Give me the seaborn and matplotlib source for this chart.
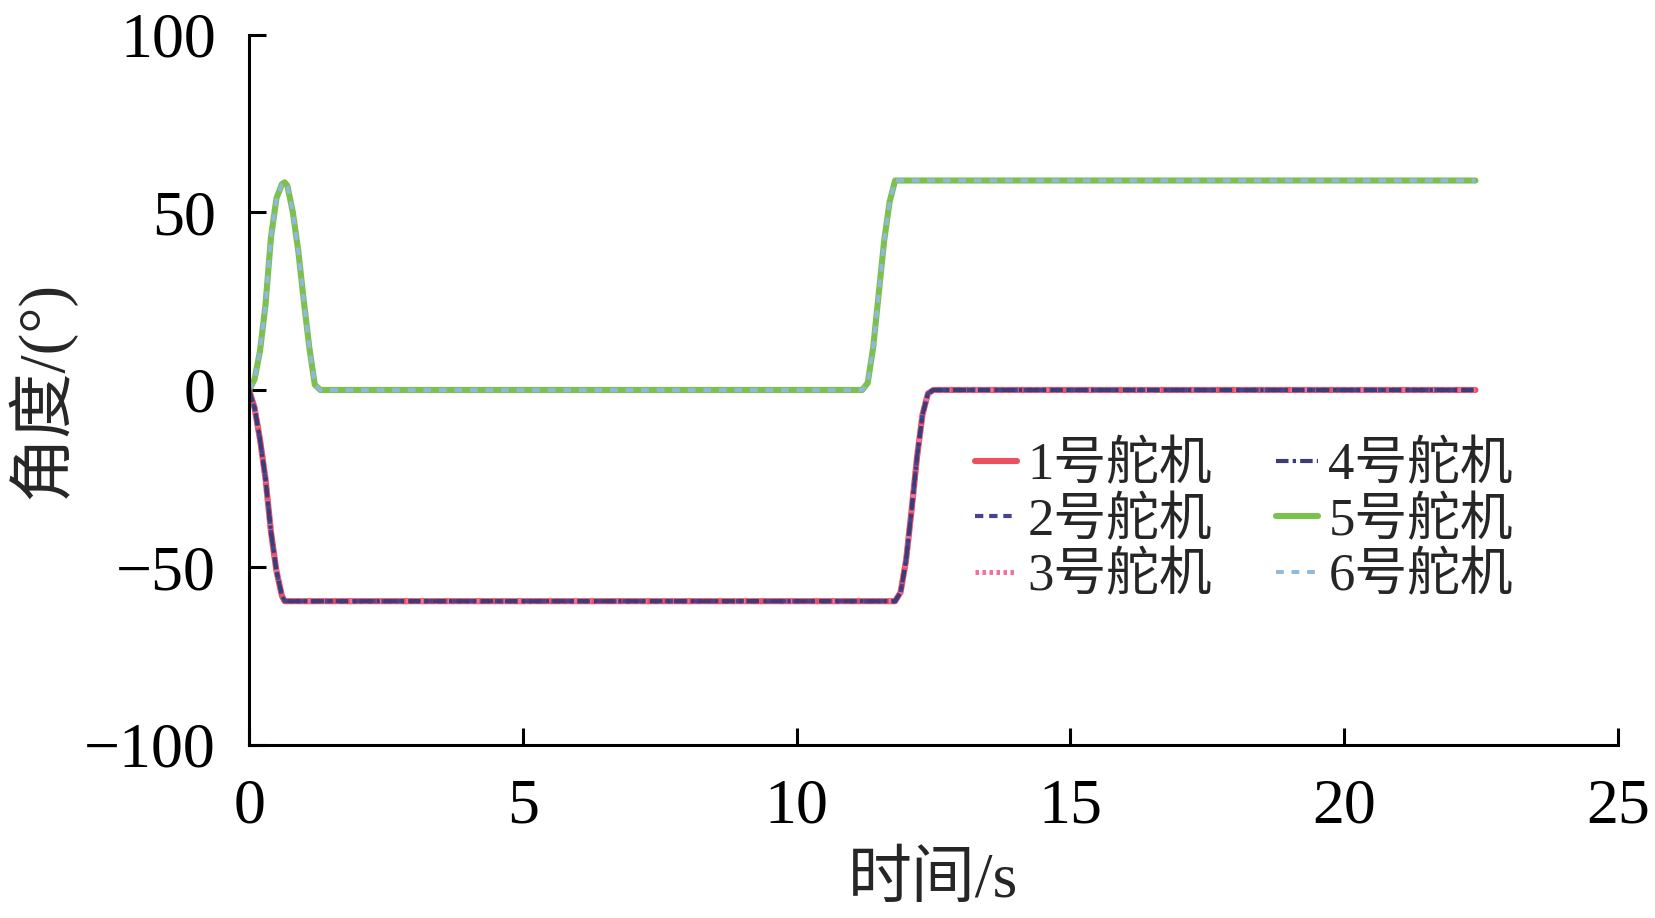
import matplotlib
matplotlib.use("Agg")
import matplotlib.pyplot as plt
import seaborn as sns
import pandas as pd

# ---- data ----
time_s = [0, 0.1, 0.2, 0.3, 0.4, 0.5, 0.6, 0.65, 0.7, 0.8, 0.9, 1.0, 1.1, 1.2, 1.3,
          5, 10, 11.2, 11.3, 11.4, 11.5, 11.6, 11.7, 11.8, 11.9, 12.0, 12.1, 12.2,
          12.3, 12.4, 12.5, 15, 20, 22.4]
# servos 1-4 (identical curves)
angle_down = [0, -5, -14, -25, -40, -51, -58, -59.5, -59.5, -59.5, -59.5, -59.5, -59.5,
              -59.5, -59.5, -59.5, -59.5, -59.5, -59.5, -59.5, -59.5, -59.5, -59.5,
              -59.5, -57, -48, -34, -19, -7, -1, 0, 0, 0, 0]
# servos 5-6 (identical curves)
angle_up = [0, 3, 11, 24, 43, 54, 58, 58.5, 57.5, 50, 39, 25, 12, 1.5, 0,
            0, 0, 0, 2, 12, 27, 42, 53, 59, 59, 59, 59, 59, 59, 59, 59, 59, 59, 59]

servo_names = ["1号舵机", "2号舵机", "3号舵机", "4号舵机", "5号舵机", "6号舵机"]
servo_curves = [angle_down, angle_down, angle_down, angle_down, angle_up, angle_up]
servo_colors = ["#ec4f5f", "#45458f", "#f4709a", "#3c3c78", "#7cc04e", "#8fb8dc"]
servo_styles = ["-", (0, (2.0, 1.4)), (0, (0.7, 0.7)), (0, (3, 1.0, 0.8, 1.0)), "-", (0, (2, 2.0))]
servo_widths = [4.4, 3.0, 3.6, 3.0, 4.4, 2.8]

x_ticks = [0, 5, 10, 15, 20, 25]
y_ticks = [-100, -50, 0, 50, 100]
x_label = "时间/s"
y_label = "角度/(°)"

rows = []
for name, curve in zip(servo_names, servo_curves):
    for t, a in zip(time_s, curve):
        rows.append({"servo": name, "t": t, "angle": a})
df = pd.DataFrame(rows)

sns.set_theme(style="white")
plt.rcParams["font.family"] = ["Liberation Serif", "Noto Sans CJK SC", "DejaVu Sans"]
plt.rcParams["axes.unicode_minus"] = True

fig = plt.figure(figsize=(16.55, 9.18), dpi=100)
ax = fig.add_axes([0.1505, 0.1885, 0.827, 0.7734])

draw_order = [4, 5, 0, 2, 1, 3]
for i in draw_order:
    sub = df[df["servo"] == servo_names[i]]
    sns.lineplot(data=sub, x="t", y="angle", ax=ax, color=servo_colors[i],
                 linestyle=servo_styles[i], linewidth=servo_widths[i],
                 label=servo_names[i], estimator=None, sort=False)

ax.set_xlim(0, 25)
ax.set_ylim(-100, 100)
ax.set_xticks(x_ticks)
ax.set_yticks(y_ticks)
ax.set_xticklabels([str(v) for v in x_ticks])
ax.set_yticklabels(["\u2212100", "\u221250", "0", "50", "100"])
ax.tick_params(axis="both", direction="in", length=12, width=2.2, labelsize=46,
               colors="black", bottom=True, left=True)
ax.tick_params(axis="y", pad=24)
ax.tick_params(axis="x", pad=24)
for s in ["top", "right"]:
    ax.spines[s].set_visible(False)
for s in ["left", "bottom"]:
    ax.spines[s].set_color("black")
    ax.spines[s].set_linewidth(2.2)

ax.set_xlabel(x_label, fontsize=46, labelpad=12)
ax.set_ylabel(y_label, fontsize=47)
ax.yaxis.set_label_coords(-0.127, 0.5)

handles, labels = ax.get_legend_handles_labels()
hmap = dict(zip(labels, handles))
ax.legend([hmap[n] for n in servo_names], servo_names, ncol=2, frameon=False,
          fontsize=38, loc="upper left", bbox_to_anchor=(0.511, 0.465),
          handlelength=0.8, handletextpad=0.2, columnspacing=1.2,
          labelspacing=0.12, borderpad=0)

fig.savefig("out.png", dpi=100)
